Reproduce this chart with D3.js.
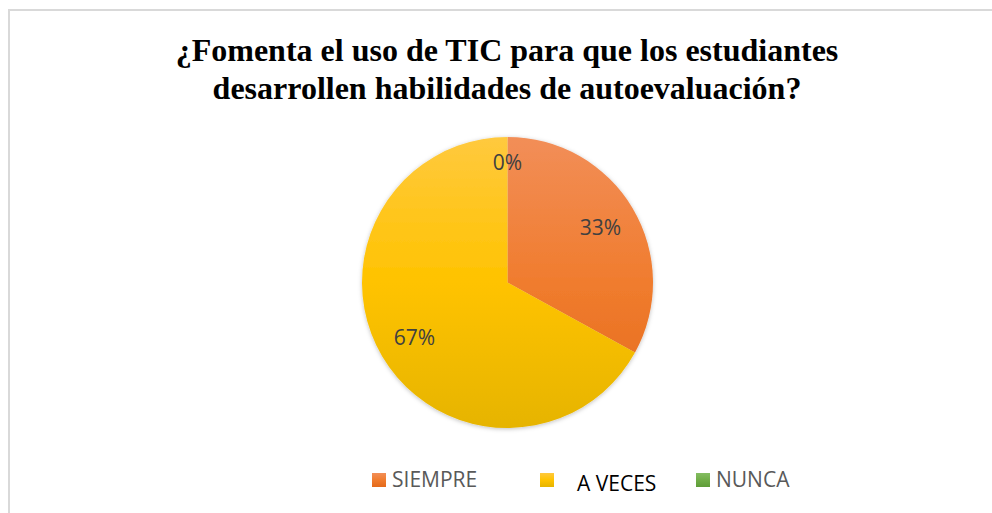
<!DOCTYPE html>
<html>
<head>
<meta charset="utf-8">
<script src="https://cdn.jsdelivr.net/npm/d3@7"></script>
<style>
  body { margin: 0; background: white; }
</style>
</head>
<body>
<div id="chart"></div>
<script>
const categories = ["SIEMPRE", "A VECES", "NUNCA"];
const values = [33, 67, 0];
const labels = ["33%", "67%", "0%"];
const colorsTop = ["#f28e58", "#ffc93e", "#84bd62"];
const colorsMid = ["#f07c2e", "#ffc300", "#70ad47"];
const colorsBottom = ["#e4691a", "#e6b400", "#5e9c38"];

const width = 992,
height = 513,
cx = 507.5,
cy = 282.5,
radius = 145.5;

const svg = d3.select("#chart").
append("svg").
attr("width", width).
attr("height", height).
style("background-color", "white");

// frame (only left and top edges show)
svg.append("path").
attr("d", `M9,${height} V10 H${width}`).
attr("fill", "none").
attr("stroke", "#d9d9d9").
attr("stroke-width", 2);

// title
const title = svg.append("text").
attr("x", 507).
attr("text-anchor", "middle").
style("font-family", "'Liberation Serif', 'Times New Roman', serif").
style("font-weight", "bold").
style("font-size", "32px").
attr("fill", "#000");
title.append("tspan").attr("x", 507).attr("y", 61).text("¿Fomenta el uso de TIC para que los estudiantes");
title.append("tspan").attr("x", 507).attr("y", 99).text("desarrollen habilidades de autoevaluación?");

const defs = svg.append("defs");
categories.forEach((c, i) => {
  const g = defs.append("linearGradient").
  attr("id", "grad" + i).
  attr("gradientUnits", "userSpaceOnUse").
  attr("x1", 0).attr("y1", -radius).
  attr("x2", 0).attr("y2", radius);
  g.append("stop").attr("offset", "0%").attr("stop-color", colorsTop[i]);
  g.append("stop").attr("offset", "50%").attr("stop-color", colorsMid[i]);
  g.append("stop").attr("offset", "100%").attr("stop-color", colorsBottom[i]);

  const lg = defs.append("linearGradient").
  attr("id", "lgrad" + i).
  attr("x1", "0%").attr("y1", "0%").
  attr("x2", "0%").attr("y2", "100%");
  lg.append("stop").attr("offset", "0%").attr("stop-color", colorsTop[i]);
  lg.append("stop").attr("offset", "50%").attr("stop-color", colorsMid[i]);
  lg.append("stop").attr("offset", "100%").attr("stop-color", colorsBottom[i]);
});

const shadow = defs.append("filter").
attr("id", "shadow").
attr("x", "-10%").attr("y", "-10%").
attr("width", "120%").attr("height", "120%");
shadow.append("feDropShadow").
attr("dx", 0).attr("dy", 1).
attr("stdDeviation", 2).
attr("flood-color", "#000").
attr("flood-opacity", 0.25);

const data = categories.map((c, i) => ({ cat: c, value: values[i], label: labels[i], i }));

const pie = d3.pie().
sort(null).
value(d => d.value);

const arc = d3.arc().innerRadius(0).outerRadius(radius);
const labelArc = d3.arc().innerRadius(108).outerRadius(108);
const zeroArc = d3.arc().innerRadius(120.5).outerRadius(120.5);

const pieG = svg.append("g").
attr("transform", `translate(${cx},${cy})`);

const arcs = pie(data);

pieG.append("g").
attr("filter", "url(#shadow)").
selectAll("path").
data(arcs).
enter().
append("path").
attr("d", arc).
attr("fill", d => `url(#grad${d.data.i})`);

pieG.selectAll("text.lbl").
data(arcs).
enter().
append("text").
attr("class", "lbl").
attr("transform", d => `translate(${(d.data.value === 0 ? zeroArc : labelArc).centroid(d)})`).
attr("text-anchor", "middle").
attr("dy", "0.36em").
style("font-family", "'Open Sans', sans-serif").
style("font-size", "21px").
attr("fill", "#404040").
text(d => d.data.label);

// legend
const legendX = [372, 540, 696];
const legendTextX = [392, 577, 716];
const legendTextY = [487, 491, 487];
const legendTextColor = ["#595959", "#000000", "#595959"];

const legend = svg.append("g").attr("id", "legend");
legend.selectAll("rect").
data(data).
enter().
append("rect").
attr("x", d => legendX[d.i]).
attr("y", 473).
attr("width", 14).
attr("height", 14).
attr("fill", d => `url(#lgrad${d.i})`);

legend.selectAll("text").
data(data).
enter().
append("text").
attr("x", d => legendTextX[d.i]).
attr("y", d => legendTextY[d.i]).
style("font-family", "'Open Sans', sans-serif").
style("font-size", "21px").
attr("fill", d => legendTextColor[d.i]).
text(d => d.cat);
</script>
</body>
</html>
